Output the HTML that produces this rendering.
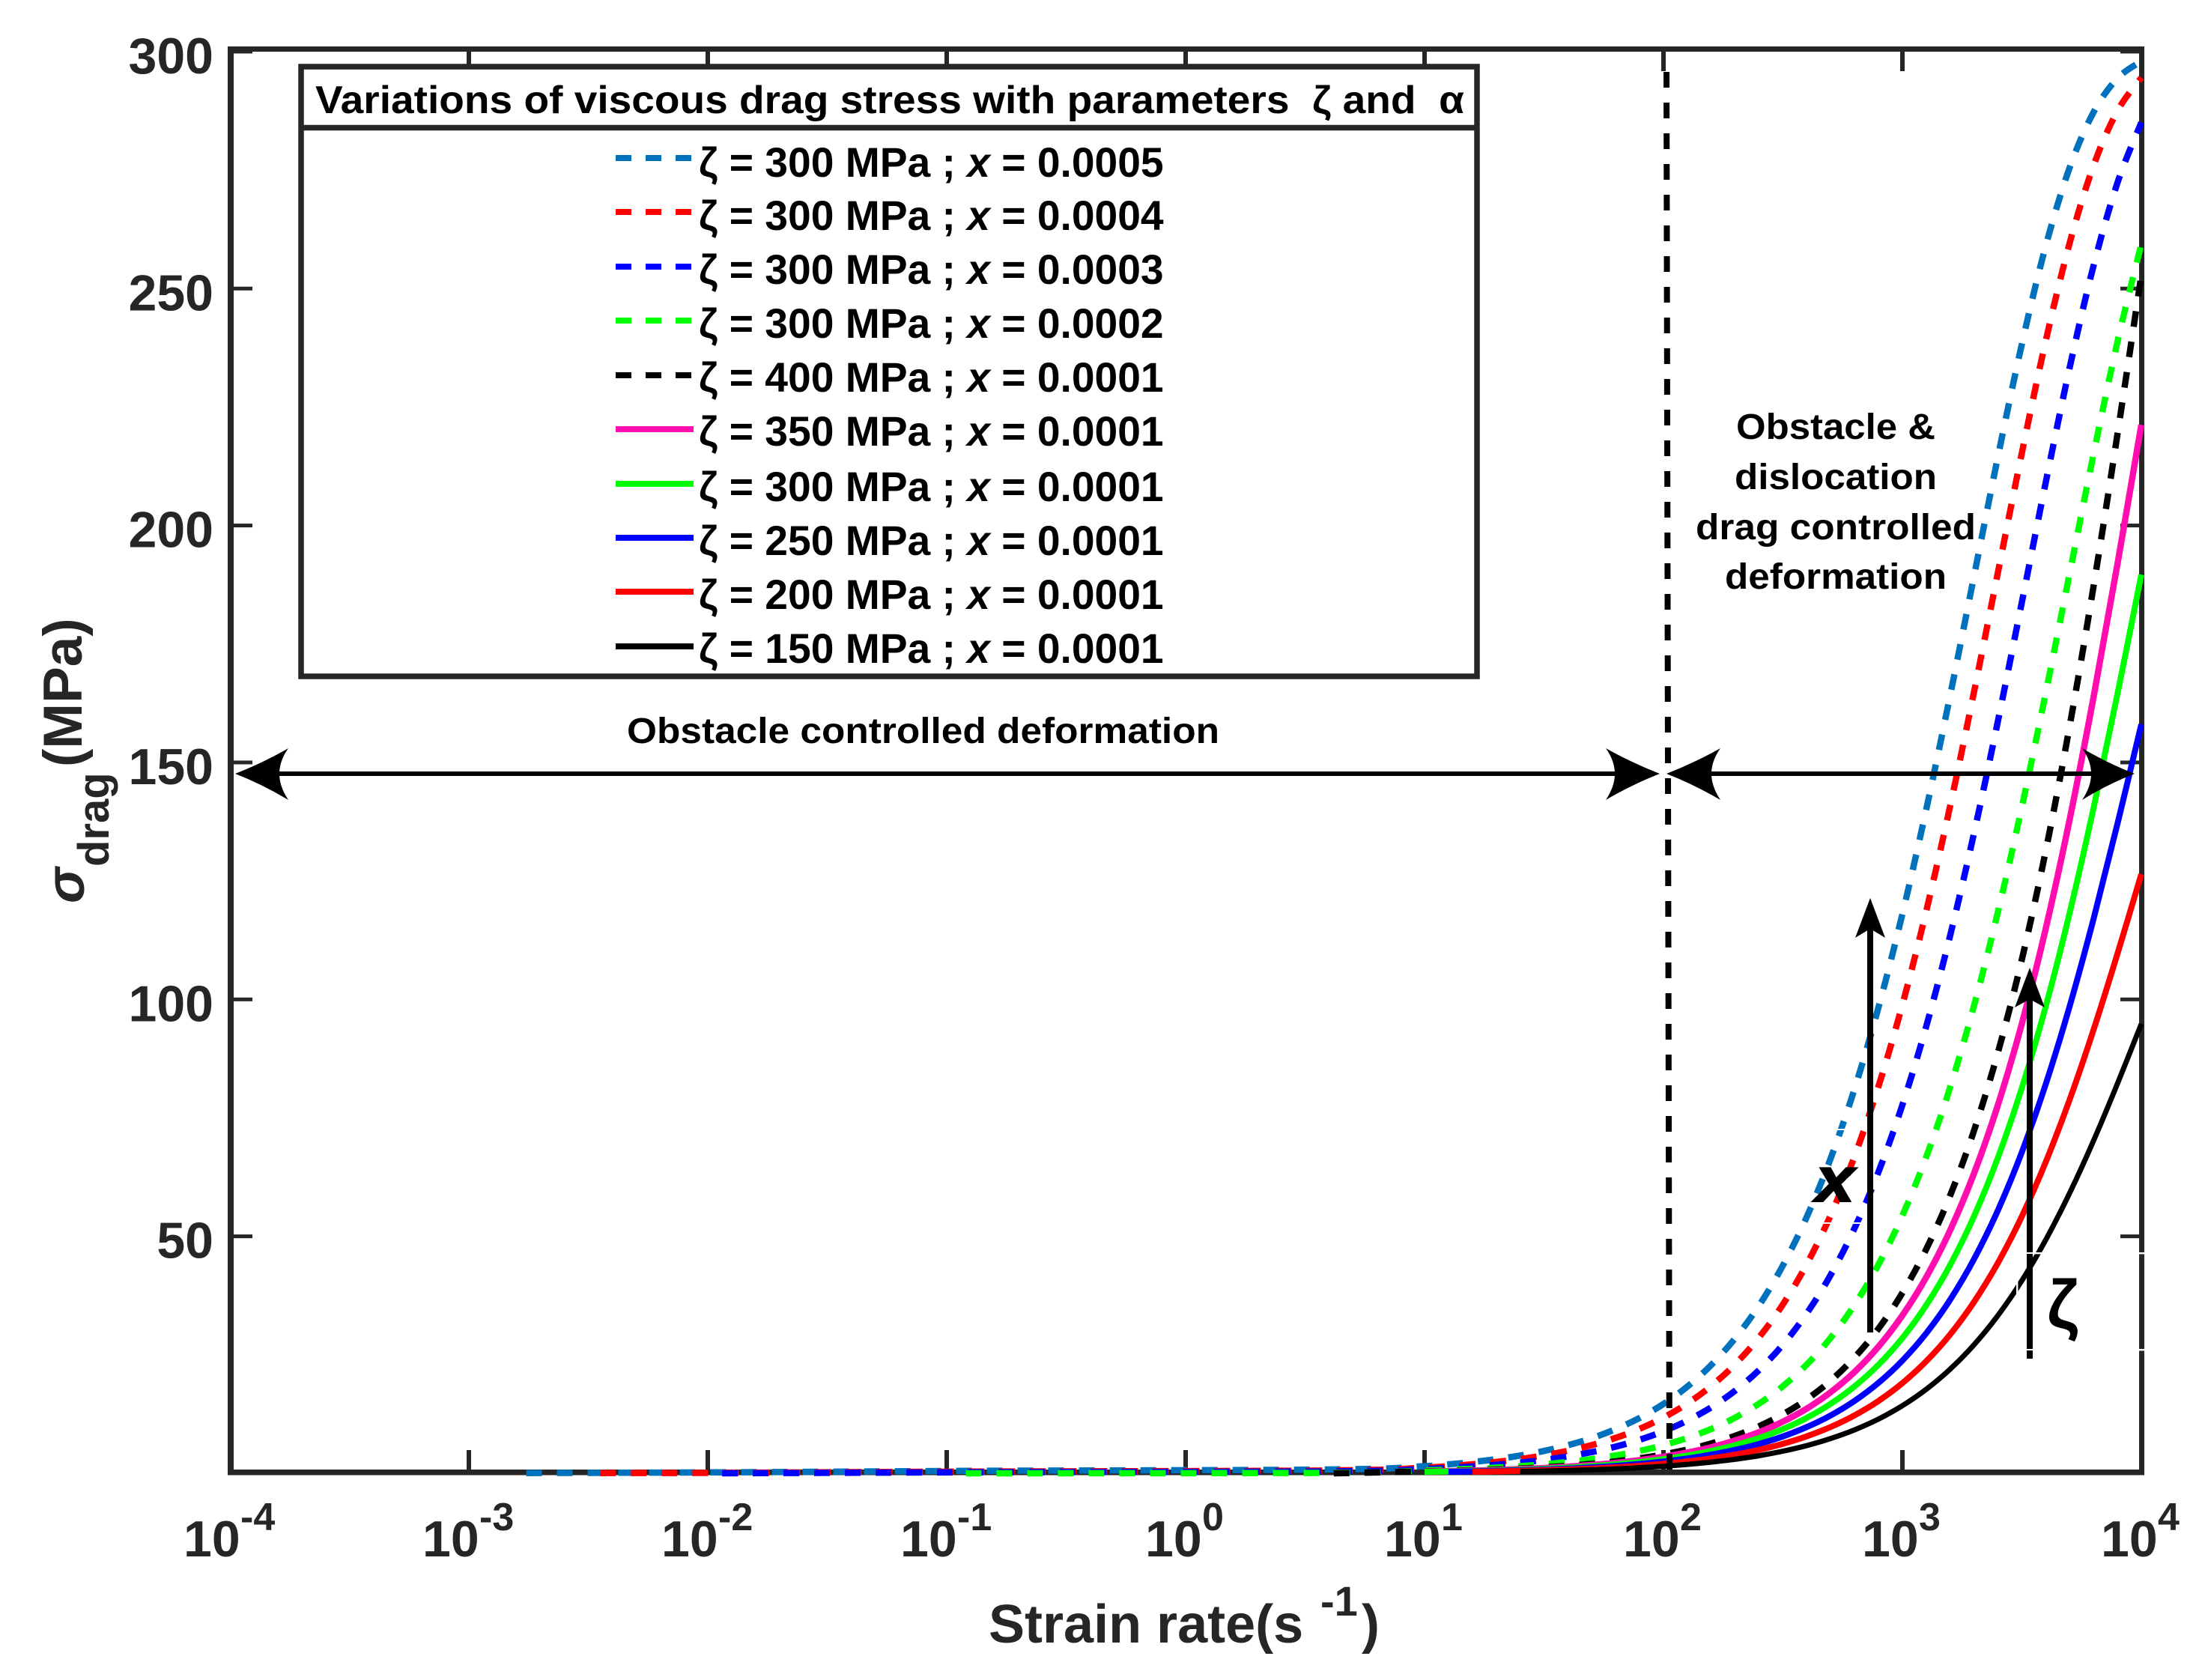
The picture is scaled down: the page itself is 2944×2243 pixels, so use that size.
<!DOCTYPE html>
<html lang="en">
<head>
<meta charset="utf-8">
<title>Viscous drag stress vs strain rate</title>
<style>
html,body{margin:0;padding:0;background:#fff;}
svg{display:block;}
text{font-family:"Liberation Sans","DejaVu Sans",sans-serif;font-weight:bold;}
</style>
</head>
<body>
<svg id="chart" xmlns="http://www.w3.org/2000/svg" width="2944" height="2243" viewBox="0 0 2944 2243">
  <rect x="0" y="0" width="2944" height="2243" fill="#fff"/>
  <g id="axes"></g>
  <g id="series"></g>

  <line x1="2225" y1="96" x2="2229" y2="1968" stroke="#000" stroke-width="8" stroke-dasharray="21 20"/>

  <g fill="#fff">
    <rect x="2693" y="1672" width="172" height="2.4"/>
    <rect x="2693" y="1801" width="172" height="2.4"/>
    <rect x="2692" y="1672" width="2.4" height="130"/>
    <rect x="2445" y="1507" width="60" height="2"/>
    <rect x="2428" y="1632" width="78" height="2"/>
  </g>

  <g fill="#000">
    <rect x="370" y="1030" width="1790" height="6"/>
    <path d="M314 1033 Q350 1019 385 999 Q373 1016 373 1033 Q373 1050 385 1068 Q350 1047 314 1033Z"/>
    <path d="M2216 1033 Q2180 1019 2144 999 Q2156 1016 2156 1033 Q2156 1050 2144 1068 Q2180 1047 2216 1033Z"/>
  </g>
  <g fill="#000">
    <rect x="2282" y="1030" width="512" height="6"/>
    <path d="M2225 1033 Q2261 1019 2297 999 Q2285 1016 2285 1033 Q2285 1050 2297 1068 Q2261 1047 2225 1033Z"/>
    <path d="M2850 1033 Q2814 1019 2780 999 Q2792 1016 2792 1033 Q2792 1050 2780 1068 Q2814 1047 2850 1033Z"/>
  </g>

  <g fill="#000">
    <rect x="2493" y="1235" width="8" height="544"/>
    <path d="M2497 1199 L2517 1252 L2497 1240 L2477 1252Z"/>
  </g>
  <g fill="#000">
    <rect x="2706" y="1330" width="8" height="342"/>
    <rect x="2706" y="1674" width="8" height="127"/>
    <rect x="2706" y="1803" width="8" height="11"/>
    <path d="M2710 1292 L2730 1345 L2710 1334 L2690 1345Z"/>
  </g>

  <text x="2424" y="1604" font-size="84" font-style="italic" textLength="52" lengthAdjust="spacingAndGlyphs" fill="#000" stroke="#000" stroke-width="2">x</text>
  <text x="2733" y="1773" font-size="92" fill="#000">ζ</text>

  <text x="837" y="992" font-size="48" textLength="791" lengthAdjust="spacingAndGlyphs" fill="#000">Obstacle controlled deformation</text>
  <g font-size="48" fill="#000">
    <text x="2318" y="586" textLength="266" lengthAdjust="spacingAndGlyphs">Obstacle &amp;</text>
    <text x="2316" y="653" textLength="270" lengthAdjust="spacingAndGlyphs">dislocation</text>
    <text x="2264" y="720" textLength="374" lengthAdjust="spacingAndGlyphs">drag controlled</text>
    <text x="2303" y="786" textLength="296" lengthAdjust="spacingAndGlyphs">deformation</text>
  </g>

  <g>
    <rect x="402" y="89" width="1570" height="814" fill="#fff" stroke="#262626" stroke-width="7.5"/>
    <line x1="402" y1="170.5" x2="1972" y2="170.5" stroke="#262626" stroke-width="7.5"/>
    <text x="421" y="151" font-size="52" textLength="1534" lengthAdjust="spacingAndGlyphs" xml:space="preserve" fill="#000">Variations of viscous drag stress with parameters  ζ and  α</text>
    <g><line x1="822" y1="211" x2="926" y2="211" stroke="#0072BD" stroke-width="8" stroke-dasharray="21 19"/><text x="933" y="236" font-size="55.2" fill="#000">ζ = 300 MPa ; <tspan font-style="italic">x</tspan> = 0.0005</text></g>
    <g><line x1="822" y1="283" x2="926" y2="283" stroke="#FF0000" stroke-width="8" stroke-dasharray="21 19"/><text x="933" y="307" font-size="55.2" fill="#000">ζ = 300 MPa ; <tspan font-style="italic">x</tspan> = 0.0004</text></g>
    <g><line x1="822" y1="356" x2="926" y2="356" stroke="#0000FF" stroke-width="8" stroke-dasharray="21 19"/><text x="933" y="379" font-size="55.2" fill="#000">ζ = 300 MPa ; <tspan font-style="italic">x</tspan> = 0.0003</text></g>
    <g><line x1="822" y1="428" x2="926" y2="428" stroke="#00FF00" stroke-width="8" stroke-dasharray="21 19"/><text x="933" y="451" font-size="55.2" fill="#000">ζ = 300 MPa ; <tspan font-style="italic">x</tspan> = 0.0002</text></g>
    <g><line x1="822" y1="501" x2="926" y2="501" stroke="#000" stroke-width="8" stroke-dasharray="21 19"/><text x="933" y="523" font-size="55.2" fill="#000">ζ = 400 MPa ; <tspan font-style="italic">x</tspan> = 0.0001</text></g>
    <g><line x1="822" y1="573" x2="926" y2="573" stroke="#FF0DAF" stroke-width="8"/><text x="933" y="595" font-size="55.2" fill="#000">ζ = 350 MPa ; <tspan font-style="italic">x</tspan> = 0.0001</text></g>
    <g><line x1="822" y1="646" x2="926" y2="646" stroke="#00FF00" stroke-width="8"/><text x="933" y="669" font-size="55.2" fill="#000">ζ = 300 MPa ; <tspan font-style="italic">x</tspan> = 0.0001</text></g>
    <g><line x1="822" y1="718" x2="926" y2="718" stroke="#0000FF" stroke-width="8"/><text x="933" y="741" font-size="55.2" fill="#000">ζ = 250 MPa ; <tspan font-style="italic">x</tspan> = 0.0001</text></g>
    <g><line x1="822" y1="790" x2="926" y2="790" stroke="#FF0000" stroke-width="8"/><text x="933" y="813" font-size="55.2" fill="#000">ζ = 200 MPa ; <tspan font-style="italic">x</tspan> = 0.0001</text></g>
    <g><line x1="822" y1="863" x2="926" y2="863" stroke="#000" stroke-width="8"/><text x="933" y="885" font-size="55.2" fill="#000">ζ = 150 MPa ; <tspan font-style="italic">x</tspan> = 0.0001</text></g>
  </g>

  <g fill="#262626">
    <text transform="translate(112,1206) rotate(-90)" font-size="72" font-style="italic">σ</text>
    <text transform="translate(145,1157) rotate(-90)" font-size="58">drag</text>
    <text transform="translate(109,1024) rotate(-90)" font-size="73">(MPa)</text>
  </g>
  <g fill="#262626">
    <text x="1320" y="2193" font-size="72">Strain rate(s</text>
    <text x="1763" y="2157" font-size="56">-1</text>
    <text x="1818" y="2193" font-size="72">)</text>
  </g>
</svg>

<script>
// Strain-rate grid (log10 of s^-1) shared by all series
const logRates = [-2.76,-2.45,-1.94,-0.92,0.62,1.0,1.1,1.2,1.3,1.4,1.5,1.6,1.7,1.8,1.9,2.0,2.1,2.2,2.3,2.4,2.5,2.6,2.7,2.8,2.9,3.0,3.1,3.2,3.3,3.4,3.5,3.6,3.7,3.8,3.9,4.0];

// Stress values in MPa (null = curve not visible at that rate)
const zeta300x0005 = [0.05,0.1,0.2,0.5,0.8,1.50,1.88,2.37,2.98,3.74,4.71,5.91,7.42,9.32,11.68,14.63,18.30,22.86,28.49,35.41,43.88,54.14,66.50,81.17,98.34,118.04,140.14,164.19,189.38,214.57,238.28,259.01,275.52,287.20,294.35,297.98];
const zeta300x0004 = [null,0.05,0.1,0.35,0.6,1.20,1.51,1.90,2.39,3.00,3.77,4.74,5.95,7.48,9.38,11.76,14.73,18.43,23.01,28.68,35.65,44.16,54.50,66.92,81.66,98.90,118.69,140.85,164.95,190.16,215.32,238.97,259.60,275.95,287.48,294.50];
const zeta300x0003 = [null,null,0.0,0.2,0.4,0.90,1.13,1.42,1.79,2.25,2.83,3.56,4.48,5.63,7.06,8.87,11.12,13.93,17.43,21.78,27.15,33.77,41.88,51.74,63.61,77.75,94.36,113.52,135.13,158.79,183.83,209.13,233.31,254.81,272.31,285.06];
const zeta300x0002 = [null,null,null,0.0,0.1,0.60,0.75,0.95,1.19,1.50,1.89,2.38,2.99,3.76,4.73,5.94,7.46,9.36,11.74,14.70,18.39,22.96,28.61,35.57,44.07,54.38,66.78,81.49,98.72,118.48,140.61,164.69,189.90,215.06,238.74,259.40];
const zeta400x0001 = [null,null,null,null,0.0,0.40,0.50,0.63,0.80,1.00,1.26,1.59,2.00,2.52,3.16,3.98,5.00,6.29,7.90,9.92,12.45,15.61,19.55,24.46,30.54,38.07,47.32,58.63,72.35,88.84,108.44,131.38,157.68,187.16,219.24,252.85];
const zeta350x0001 = [null,null,null,null,null,0.35,0.44,0.55,0.70,0.88,1.11,1.39,1.75,2.20,2.77,3.48,4.38,5.50,6.92,8.68,10.90,13.66,17.11,21.40,26.73,33.31,41.40,51.30,63.31,77.74,94.89,114.95,137.97,163.77,191.84,221.24];
const zeta300x0001 = [null,null,null,null,null,0.30,0.38,0.47,0.60,0.75,0.95,1.19,1.50,1.89,2.37,2.99,3.75,4.72,5.93,7.44,9.34,11.71,14.66,18.35,22.91,28.55,35.49,43.97,54.27,66.63,81.33,98.53,118.26,140.37,164.43,189.64];
const zeta250x0001 = [null,null,null,null,null,null,0.31,0.40,0.50,0.63,0.79,0.99,1.25,1.57,1.98,2.49,3.13,3.93,4.94,6.20,7.78,9.76,12.22,15.29,19.09,23.79,29.57,36.64,45.22,55.53,67.78,82.11,98.55,116.98,137.03,158.03];
const zeta200x0001 = [null,null,null,null,null,null,null,0.32,0.40,0.50,0.63,0.79,1.00,1.26,1.58,1.99,2.50,3.14,3.95,4.96,6.23,7.81,9.78,12.23,15.27,19.03,23.66,29.31,36.18,44.42,54.22,65.69,78.84,93.58,109.62,126.42];
const zeta150x0001 = [null,null,null,null,null,null,null,null,null,0.38,0.47,0.60,0.75,0.94,1.19,1.49,1.88,2.36,2.96,3.72,4.67,5.85,7.33,9.17,11.45,14.27,17.74,21.99,27.13,33.32,40.67,49.27,59.13,70.19,82.22,94.82];

// Axis tick values
const yTickValues = [50,100,150,200,250,300];
const xTickExponents = [-4,-3,-2,-1,0,1,2,3,4];

const NS = 'http://www.w3.org/2000/svg';
const axesGroup = document.getElementById('axes');
const seriesGroup = document.getElementById('series');

function xScale(logRate){ return 307 + (logRate + 4) * 319; }
function yScale(stress){ return 1967 - stress * 6.327; }

function makeEl(tag, attrs, parent){
  const el = document.createElementNS(NS, tag);
  for (const k in attrs) el.setAttribute(k, attrs[k]);
  parent.appendChild(el);
  return el;
}

// Spines
const spineTop = makeEl('rect', {x:304,y:62,width:2559,height:7,fill:'#262626'}, axesGroup);


const spineBottom = makeEl('rect', {x:304,y:1962,width:2559,height:7.5,fill:'#262626'}, axesGroup);


const spineLeft = makeEl('rect', {x:304,y:62,width:8,height:1907,fill:'#262626'}, axesGroup);


const spineRight = makeEl('rect', {x:2856,y:62,width:7,height:1907,fill:'#262626'}, axesGroup);



// Y ticks and labels
yTickValues.forEach(function(v){
  const py = yScale(v);
  const tickL = makeEl('rect', {x:312,y:py-2.5,width:25,height:5,fill:'#262626'}, axesGroup);
  
  
  const tickR = makeEl('rect', {x:2831,y:py-2.5,width:25,height:5,fill:'#262626'}, axesGroup);
  
  
  const label = makeEl('text', {x:285,y:py+29,'font-size':68,'text-anchor':'end',fill:'#262626'}, axesGroup);
  
  
  label.textContent = String(v);
});

// X ticks and labels
xTickExponents.forEach(function(e){
  const px = xScale(e);
  if (e > -4 && e < 4) {
    const tickB = makeEl('rect', {x:px-3,y:1936,width:6,height:26,fill:'#262626'}, axesGroup);
    
    
    const tickT = makeEl('rect', {x:px-3,y:69,width:6,height:26,fill:'#262626'}, axesGroup);
    
    
  }
  const start = px - (e < 0 ? 62 : 54);
  const base = makeEl('text', {x:start,y:2078,'font-size':68,fill:'#262626'}, axesGroup);
  
  
  base.textContent = '10';
  const sup = makeEl('text', {x:start+76,y:2043,'font-size':52,fill:'#262626'}, axesGroup);
  
  
  sup.textContent = String(e);
});

// Smooth path through a series' visible points
function curvePath(values){
  const pts = [];
  values.forEach(function(v, i){
    if (v !== null) pts.push([xScale(logRates[i]), yScale(v)]);
  });
  let d = 'M' + pts[0][0].toFixed(1) + ' ' + pts[0][1].toFixed(1);
  for (let i = 0; i < pts.length - 1; i++) {
    const p0 = pts[Math.max(i-1,0)], p1 = pts[i], p2 = pts[i+1], p3 = pts[Math.min(i+2,pts.length-1)];
    const c1x = p1[0] + (p2[0]-p0[0])/6, c1y = p1[1] + (p2[1]-p0[1])/6;
    const c2x = p2[0] - (p3[0]-p1[0])/6, c2y = p2[1] - (p3[1]-p1[1])/6;
    d += 'C' + c1x.toFixed(1) + ' ' + c1y.toFixed(1) + ' ' + c2x.toFixed(1) + ' ' + c2y.toFixed(1) + ' ' + p2[0].toFixed(1) + ' ' + p2[1].toFixed(1);
  }
  return d;
}

function drawSeries(values, colour, width, dashed, name){
  const path = makeEl('path', {d:curvePath(values),fill:'none',stroke:colour,'stroke-width':width}, seriesGroup);
  if (dashed) path.setAttribute('stroke-dasharray', '21 20');
  
  
}

drawSeries(zeta300x0005, '#0072BD', 8.5, true, 'curve-zeta300-x0005');
drawSeries(zeta300x0004, '#FF0000', 8.5, true, 'curve-zeta300-x0004');
drawSeries(zeta300x0003, '#0000FF', 8.5, true, 'curve-zeta300-x0003');
drawSeries(zeta300x0002, '#00FF00', 8.5, true, 'curve-zeta300-x0002');
drawSeries(zeta400x0001, '#000000', 8.5, true, 'curve-zeta400-x0001');
drawSeries(zeta350x0001, '#FF0DAF', 8.5, false, 'curve-zeta350-x0001');
drawSeries(zeta300x0001, '#00FF00', 8, false, 'curve-zeta300-x0001');
drawSeries(zeta250x0001, '#0000FF', 8, false, 'curve-zeta250-x0001');
drawSeries(zeta200x0001, '#FF0000', 8, false, 'curve-zeta200-x0001');
drawSeries(zeta150x0001, '#000000', 7, false, 'curve-zeta150-x0001');
</script>
</body>
</html>
